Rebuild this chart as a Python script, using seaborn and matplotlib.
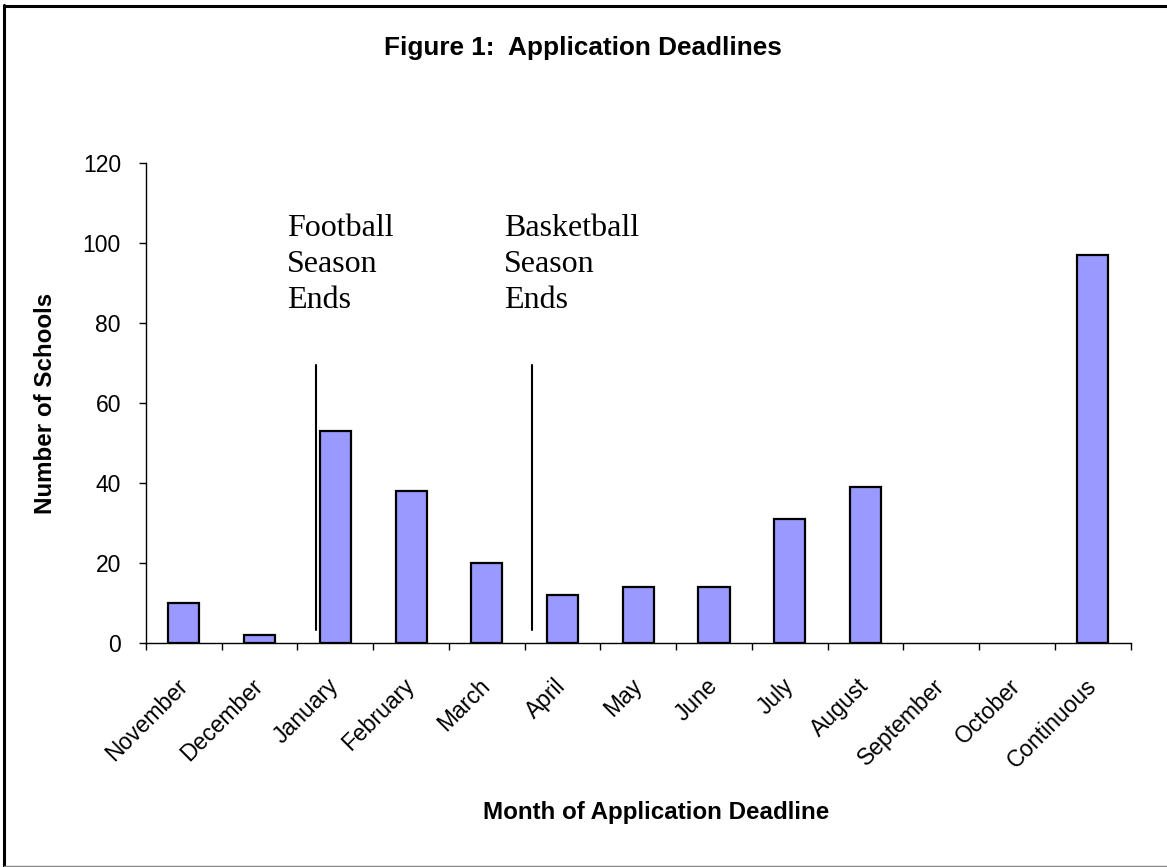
import matplotlib
matplotlib.use("Agg")
import matplotlib.pyplot as plt
from matplotlib.lines import Line2D
from matplotlib.ticker import FixedLocator
import seaborn as sns
import pandas as pd

# Application deadline counts by month
months = ["November", "December", "January", "February", "March", "April",
          "May", "June", "July", "August", "September", "October", "Continuous"]
schools = [10, 2, 53, 38, 20, 12, 14, 14, 31, 39, 0, 0, 97]

# Season-end markers: label, line position (category units), label position
season_labels = ["Football\nSeason\nEnds", "Basketball\nSeason\nEnds"]
season_line_x = [1.75, 4.6]
season_text_x = [1.36, 4.23]
season_line_y = [3.3, 69.5]

y_ticks = [0, 20, 40, 60, 80, 100, 120]

df = pd.DataFrame({"month": months, "schools": schools})

sns.set_style("white")
plt.rcParams["font.family"] = ["Liberation Sans", "DejaVu Sans"]
plt.rcParams["text.color"] = "black"
plt.rcParams["xtick.color"] = "black"
plt.rcParams["ytick.color"] = "black"
plt.rcParams["axes.labelcolor"] = "black"

fig = plt.figure(figsize=(11.67, 8.67), dpi=100)
W, H = 1167, 867
ax = fig.add_axes([146 / W, 1 - 643.3 / H, (1130.5 - 146) / W, (643.3 - 162.7) / H])

sns.barplot(data=df, x="month", y="schools", ax=ax, color="#9999FF",
            saturation=1, width=0.41, edgecolor="black", linewidth=1.6)
# empty months get no outline
for patch in ax.patches:
    if patch.get_height() == 0:
        patch.set_linewidth(0)

ax.set_xlim(-0.5, len(months) - 0.5)
ax.set_ylim(0, 120)
ax.set_yticks(y_ticks)
ax.set_yticklabels([str(v) for v in y_ticks], fontsize=16.5)

# tick marks sit between categories; labels sit under each bar
ax.xaxis.set_major_locator(FixedLocator(range(len(months))))
ax.set_xticklabels(months, fontsize=16.5, rotation=45, ha="right",
                   rotation_mode="anchor", va="center")
ax.xaxis.set_minor_locator(FixedLocator([i - 0.5 for i in range(len(months) + 1)]))
ax.tick_params(axis="x", which="major", length=0, pad=28)
ax.tick_params(axis="x", which="minor", length=5, width=1, color="black",
               direction="out", bottom=True)
ax.tick_params(axis="y", length=5, width=1, color="black", direction="out",
               left=True, pad=13)

for side in ["top", "right"]:
    ax.spines[side].set_visible(False)
for side in ["left", "bottom"]:
    ax.spines[side].set_color("black")
    ax.spines[side].set_linewidth(1)

ax.set_xlabel("")
ax.set_ylabel("")

for lab, lx, tx in zip(season_labels, season_line_x, season_text_x):
    ax.plot([lx, lx], season_line_y, color="black", linewidth=1.5)
    ax.text(tx, 107.3, lab, fontsize=23, family=["Liberation Serif", "DejaVu Serif"],
            ha="left", va="top", linespacing=1.33, color="black")

fig.text(583 / W, 1 - 55 / H, "Figure 1:  Application Deadlines", fontsize=18.8,
         fontweight="bold", ha="center", va="baseline")
fig.text(656 / W, 1 - 813 / H, "Month of Application Deadline", fontsize=17.4,
         fontweight="bold", ha="center", va="center")
fig.text(46 / W, 1 - 403 / H, "Number of Schools", fontsize=17.4,
         fontweight="bold", ha="center", va="center", rotation=90)

# page frame
fig.add_artist(Line2D([3.5 / W, 1], [1 - 6 / H, 1 - 6 / H], color="black", linewidth=2.2,
                      transform=fig.transFigure))
fig.add_artist(Line2D([4 / W, 4 / W], [1 - 5 / H, 0], color="black", linewidth=2.2,
                      transform=fig.transFigure))
fig.add_artist(Line2D([4 / W, 1], [1 - 866 / H, 1 - 866 / H], color="#888888",
                      linewidth=1, transform=fig.transFigure))

fig.savefig("out.png", dpi=100, facecolor="white")
